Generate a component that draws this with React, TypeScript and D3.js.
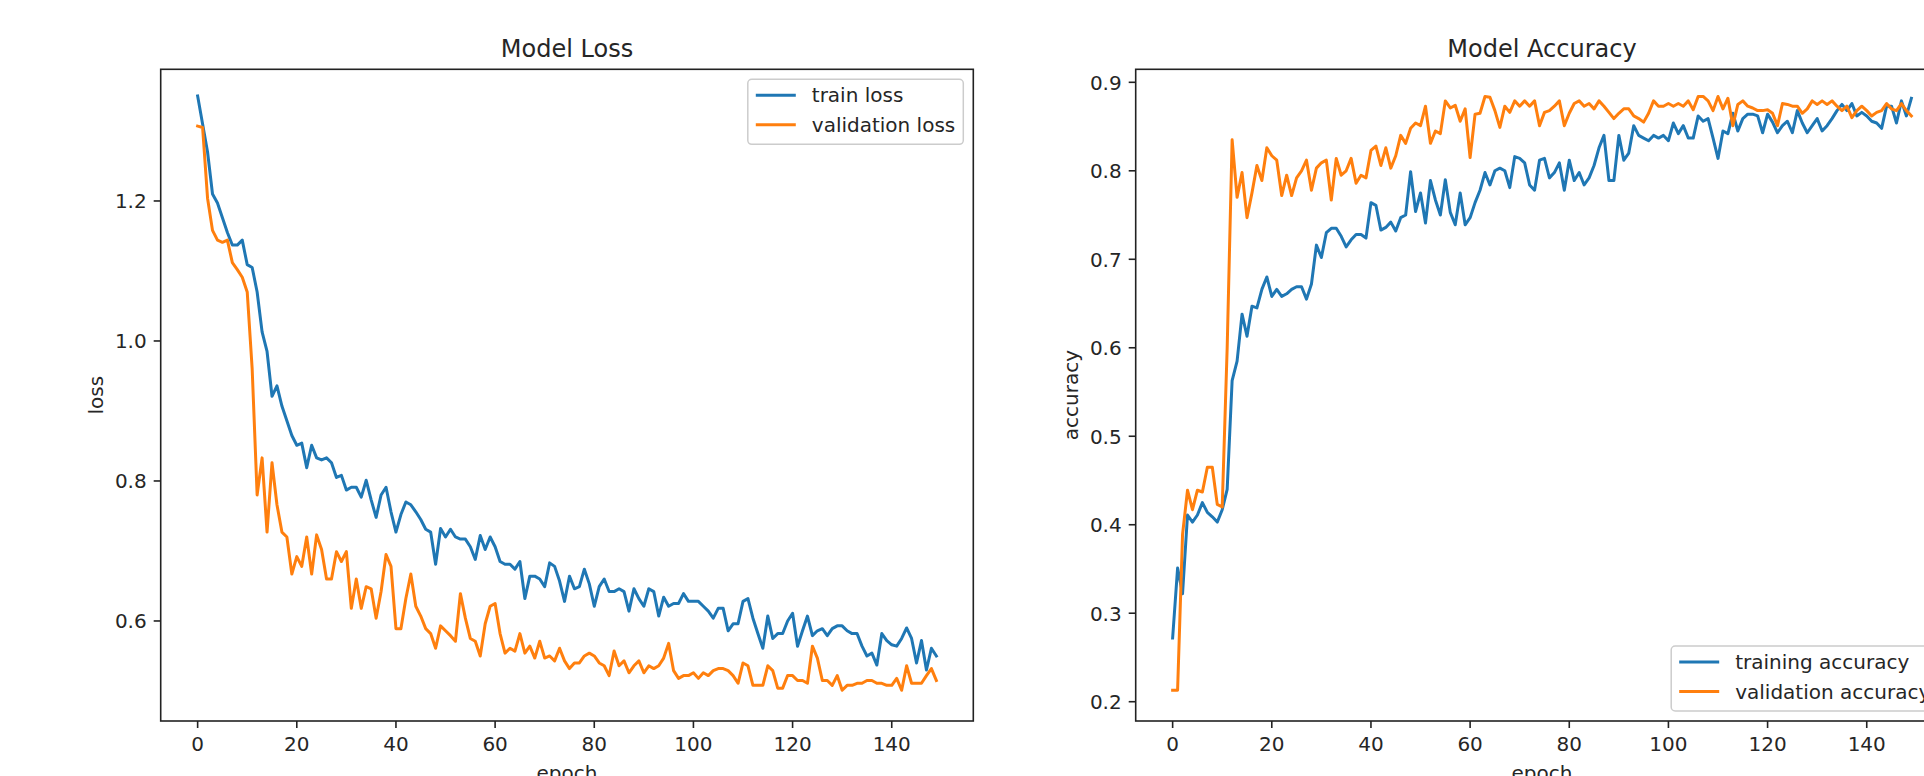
import React from "react";
import * as d3 from "d3";

const trainLoss = [1.35,1.31,1.27,1.21,1.197,1.176,1.155,1.137,1.137,1.144,1.109,1.105,1.07,1.013,0.985,0.921,0.936,0.907,0.886,0.865,0.851,0.854,0.819,0.851,0.833,0.83,0.833,0.826,0.805,0.808,0.787,0.791,0.791,0.777,0.801,0.773,0.748,0.78,0.791,0.756,0.727,0.752,0.77,0.766,0.756,0.745,0.731,0.727,0.681,0.732,0.72,0.731,0.72,0.717,0.717,0.706,0.688,0.722,0.702,0.72,0.706,0.685,0.681,0.681,0.674,0.685,0.632,0.664,0.664,0.66,0.649,0.683,0.678,0.657,0.628,0.664,0.646,0.649,0.674,0.653,0.621,0.649,0.66,0.642,0.642,0.646,0.642,0.614,0.646,0.632,0.621,0.646,0.642,0.607,0.634,0.621,0.625,0.625,0.639,0.628,0.628,0.628,0.621,0.614,0.604,0.618,0.618,0.586,0.596,0.596,0.628,0.632,0.604,0.582,0.561,0.607,0.575,0.582,0.582,0.6,0.611,0.564,0.586,0.607,0.579,0.586,0.589,0.579,0.589,0.593,0.593,0.586,0.582,0.582,0.564,0.55,0.554,0.537,0.582,0.572,0.566,0.564,0.575,0.59,0.575,0.54,0.572,0.53,0.561,0.55];
const valLoss = [1.307,1.305,1.204,1.158,1.144,1.141,1.144,1.112,1.102,1.091,1.07,0.96,0.78,0.833,0.727,0.826,0.766,0.727,0.72,0.667,0.692,0.678,0.72,0.667,0.723,0.702,0.66,0.66,0.699,0.685,0.699,0.618,0.66,0.618,0.649,0.646,0.604,0.642,0.695,0.678,0.589,0.589,0.632,0.667,0.621,0.607,0.589,0.582,0.561,0.593,0.586,0.579,0.571,0.639,0.604,0.575,0.571,0.55,0.596,0.621,0.625,0.582,0.554,0.561,0.557,0.582,0.554,0.564,0.547,0.571,0.547,0.55,0.543,0.561,0.543,0.532,0.54,0.54,0.55,0.554,0.55,0.54,0.536,0.522,0.557,0.536,0.543,0.526,0.536,0.543,0.526,0.536,0.532,0.536,0.547,0.568,0.529,0.518,0.522,0.522,0.526,0.518,0.526,0.522,0.529,0.532,0.532,0.529,0.522,0.511,0.54,0.536,0.508,0.508,0.508,0.536,0.529,0.504,0.504,0.522,0.522,0.515,0.515,0.511,0.564,0.547,0.515,0.515,0.508,0.522,0.501,0.508,0.508,0.511,0.511,0.515,0.515,0.511,0.511,0.508,0.508,0.518,0.501,0.536,0.511,0.511,0.511,0.522,0.532,0.515];
const trainAcc = [0.272,0.351,0.322,0.411,0.403,0.411,0.425,0.414,0.409,0.403,0.417,0.44,0.563,0.585,0.638,0.613,0.647,0.645,0.666,0.68,0.658,0.666,0.658,0.661,0.666,0.669,0.669,0.655,0.672,0.716,0.702,0.73,0.735,0.735,0.726,0.714,0.722,0.728,0.728,0.724,0.764,0.761,0.733,0.736,0.742,0.732,0.747,0.75,0.799,0.754,0.775,0.741,0.789,0.767,0.75,0.79,0.753,0.739,0.775,0.739,0.747,0.764,0.778,0.798,0.784,0.8,0.803,0.8,0.781,0.816,0.814,0.809,0.784,0.778,0.812,0.814,0.792,0.798,0.809,0.778,0.812,0.789,0.798,0.784,0.792,0.806,0.826,0.84,0.789,0.789,0.84,0.812,0.82,0.851,0.84,0.837,0.834,0.84,0.837,0.84,0.834,0.854,0.842,0.851,0.837,0.837,0.862,0.856,0.859,0.837,0.814,0.845,0.842,0.865,0.845,0.859,0.864,0.864,0.862,0.843,0.864,0.855,0.843,0.851,0.856,0.843,0.868,0.854,0.843,0.851,0.859,0.845,0.851,0.859,0.868,0.875,0.868,0.876,0.862,0.866,0.862,0.856,0.854,0.848,0.873,0.873,0.854,0.879,0.862,0.882];
const valAcc = [0.213,0.213,0.389,0.439,0.417,0.439,0.437,0.465,0.465,0.423,0.42,0.6,0.835,0.77,0.798,0.747,0.775,0.806,0.789,0.826,0.817,0.812,0.772,0.795,0.772,0.792,0.8,0.812,0.778,0.803,0.809,0.812,0.767,0.814,0.795,0.8,0.814,0.786,0.795,0.792,0.823,0.828,0.806,0.826,0.803,0.817,0.84,0.831,0.848,0.854,0.851,0.873,0.831,0.845,0.842,0.879,0.871,0.874,0.856,0.87,0.815,0.864,0.865,0.884,0.883,0.868,0.849,0.873,0.866,0.879,0.873,0.879,0.873,0.879,0.851,0.866,0.868,0.873,0.879,0.851,0.865,0.876,0.879,0.873,0.876,0.87,0.879,0.873,0.866,0.859,0.865,0.87,0.87,0.862,0.859,0.855,0.865,0.879,0.873,0.873,0.876,0.873,0.876,0.873,0.879,0.869,0.884,0.884,0.879,0.868,0.884,0.87,0.882,0.851,0.875,0.879,0.873,0.871,0.868,0.868,0.869,0.865,0.851,0.876,0.875,0.873,0.873,0.865,0.87,0.879,0.875,0.879,0.875,0.879,0.873,0.868,0.873,0.86,0.868,0.873,0.868,0.862,0.866,0.868,0.876,0.87,0.868,0.876,0.868,0.862];

const epochTicks = [0, 20, 40, 60, 80, 100, 120, 140];
const lossTicks = [0.6, 0.8, 1.0, 1.2];
const accTicks = [0.2, 0.3, 0.4, 0.5, 0.6, 0.7, 0.8, 0.9];

const BLUE = "#1f77b4";
const ORANGE = "#ff7f0e";
const FONT = "DejaVu Sans, sans-serif";
const TXT = "#262626";

type PanelProps = {
  x0: number;
  x1: number;
  y0: number;
  y1: number;
  yDomain: [number, number];
  yTicks: number[];
  a: number[];
  b: number[];
  title: string;
  ylabel: string;
  labels: [string, string];
  legendPos: "upper right" | "lower right";
  legendWidth: number;
};

function Panel(p: PanelProps) {
  const x = d3.scaleLinear().domain([-7.45, 156.45]).range([p.x0, p.x1]);
  const y = d3.scaleLinear().domain(p.yDomain).range([p.y1, p.y0]);
  const line = d3
    .line<number>()
    .x((_, i) => x(i))
    .y((d) => y(d));
  const fmt = d3.format(".1f");
  const cx = (p.x0 + p.x1) / 2;
  const cy = (p.y0 + p.y1) / 2;
  const lh = 65;
  const lx = p.x1 - 10 - p.legendWidth;
  const ly = p.legendPos === "upper right" ? p.y0 + 10 : p.y1 - 10 - lh;
  const clipId = "clip-" + p.title.replace(/\s/g, "");
  return (
    <g>
      <defs>
        <clipPath id={clipId}>
          <rect x={p.x0} y={p.y0} width={p.x1 - p.x0} height={p.y1 - p.y0} />
        </clipPath>
      </defs>
      <g clipPath={`url(#${clipId})`} fill="none" strokeWidth={3} strokeLinejoin="round" strokeLinecap="square">
        <path d={line(p.a) || ""} stroke={BLUE} />
        <path d={line(p.b) || ""} stroke={ORANGE} />
      </g>
      <rect x={p.x0} y={p.y0} width={p.x1 - p.x0} height={p.y1 - p.y0} fill="none" stroke="#222" strokeWidth={1.6} />
      {epochTicks.map((t) => (
        <g key={"x" + t}>
          <line x1={x(t)} x2={x(t)} y1={p.y1} y2={p.y1 + 7} stroke="#222" strokeWidth={1.6} />
          <text x={x(t)} y={p.y1 + 29.7} textAnchor="middle" fontSize={20} fill={TXT}>
            {t}
          </text>
        </g>
      ))}
      {p.yTicks.map((t) => (
        <g key={"y" + t}>
          <line x1={p.x0 - 7} x2={p.x0} y1={y(t)} y2={y(t)} stroke="#222" strokeWidth={1.6} />
          <text x={p.x0 - 14} y={y(t) + 7.3} textAnchor="end" fontSize={20} fill={TXT}>
            {fmt(t)}
          </text>
        </g>
      ))}
      <text x={cx} y={p.y0 - 12} textAnchor="middle" fontSize={24} fill={TXT}>
        {p.title}
      </text>
      <text x={cx} y={p.y1 + 59} textAnchor="middle" fontSize={20} fill={TXT}>
        epoch
      </text>
      <text
        transform={`translate(${p.x0 - 58},${cy}) rotate(-90)`}
        textAnchor="middle"
        fontSize={20}
        fill={TXT}
      >
        {p.ylabel}
      </text>
      <rect x={lx} y={ly} width={p.legendWidth} height={lh} rx={4} ry={4} fill="#fff" fillOpacity={0.8} stroke="#cccccc" strokeWidth={1.5} />
      {[0, 1].map((i) => (
        <g key={"l" + i}>
          <line
            x1={lx + 8}
            x2={lx + 48}
            y1={ly + 16 + i * 29.5}
            y2={ly + 16 + i * 29.5}
            stroke={i === 0 ? BLUE : ORANGE}
            strokeWidth={3}
          />
          <text x={lx + 64} y={ly + 23 + i * 29.5} fontSize={20} fill={TXT}>
            {p.labels[i]}
          </text>
        </g>
      ))}
    </g>
  );
}

export default function App() {
  React.useEffect(() => {
    document.body.style.margin = "0";
  }, []);
  return (
    <svg
      width={1924}
      height={776}
      style={{ position: "absolute", left: 0, top: 0, background: "#fff" }}
      fontFamily={FONT}
    >
      <rect x={0} y={0} width={1924} height={776} fill="#fff" />
      <Panel
        x0={160.7}
        x1={973.3}
        y0={69.3}
        y1={721}
        yDomain={[0.4571, 1.3881]}
        yTicks={lossTicks}
        a={trainLoss}
        b={valLoss}
        title="Model Loss"
        ylabel="loss"
        labels={["train loss", "validation loss"]}
        legendPos="upper right"
        legendWidth={215.5}
      />
      <Panel
        x0={1135.7}
        x1={1948.3}
        y0={69.3}
        y1={721}
        yDomain={[0.1782, 0.9147]}
        yTicks={accTicks}
        a={trainAcc}
        b={valAcc}
        title="Model Accuracy"
        ylabel="accuracy"
        labels={["training accuracy", "validation accuracy"]}
        legendPos="lower right"
        legendWidth={267.1}
      />
    </svg>
  );
}
